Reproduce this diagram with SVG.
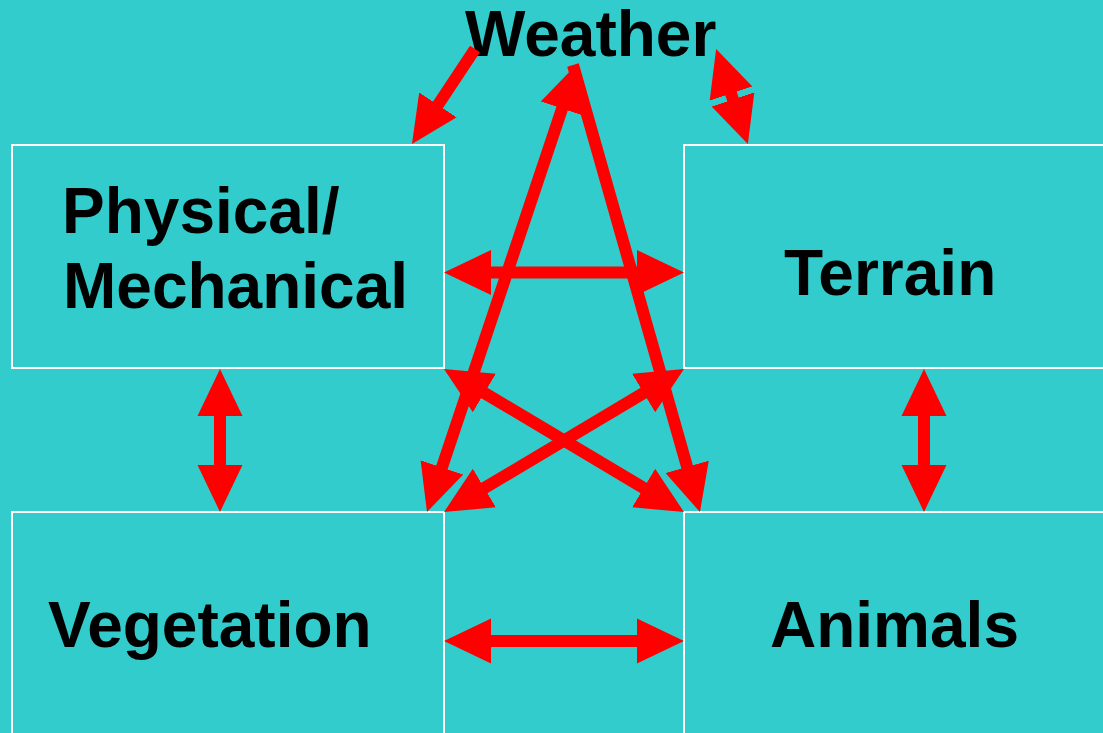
<svg xmlns="http://www.w3.org/2000/svg" width="1103" height="733" viewBox="0 0 1103 733">
<style>
.box{fill:none;stroke:#ffffff;stroke-width:2}
.lbl{font-family:"Liberation Sans",Arial,sans-serif;font-weight:bold;font-size:64px;fill:#000000}
.arr{stroke:#ff0000;stroke-width:12;fill:none}
</style>
<defs>
<marker id="h" viewBox="-1 -23 48 46" markerWidth="48" markerHeight="46" refX="0" refY="0" markerUnits="userSpaceOnUse" orient="auto-start-reverse">
<path d="M-1,-22.5 L46,0 L-1,22.5 z" fill="#ff0000"/>
</marker>
</defs>
<rect width="1103" height="733" fill="#33cccc"/>
<g id="weather">
<text class="lbl" x="465" y="56">Weather</text>
</g>
<g id="physical">
<rect class="box" x="12" y="145" width="432" height="223"/>
<text class="lbl" x="62" y="233">Physical/</text>
<text class="lbl" x="63" y="308">Mechanical</text>
</g>
<g id="terrain">
<rect class="box" x="684" y="145" width="430" height="223"/>
<text class="lbl" x="784" y="295">Terrain</text>
</g>
<g id="vegetation">
<rect class="box" x="12" y="512" width="432" height="230"/>
<text class="lbl" x="48" y="647">Vegetation</text>
</g>
<g id="animals">
<rect class="box" x="684" y="512" width="430" height="230"/>
<text class="lbl" x="770" y="647">Animals</text>
</g>
<g id="connectors">
<line class="arr" x1="490" y1="272.5" x2="638" y2="272.5" marker-start="url(#h)" marker-end="url(#h)"/>
<line class="arr" x1="490" y1="641" x2="638" y2="641" marker-start="url(#h)" marker-end="url(#h)"/>
<line class="arr" x1="220" y1="415" x2="220" y2="466" marker-start="url(#h)" marker-end="url(#h)"/>
<line class="arr" x1="924" y1="415" x2="924" y2="466" marker-start="url(#h)" marker-end="url(#h)"/>
<line class="arr" x1="483.5" y1="392.5" x2="644.5" y2="488.5" marker-start="url(#h)" marker-end="url(#h)"/>
<line class="arr" x1="644.5" y1="392.5" x2="483.5" y2="488.5" marker-start="url(#h)" marker-end="url(#h)"/>
<line class="arr" x1="562.4" y1="107.6" x2="441.6" y2="468.4" marker-start="url(#h)" marker-end="url(#h)"/>
<line class="arr" x1="573" y1="65" x2="687.4" y2="467.8" marker-end="url(#h)"/>
<line class="arr" x1="475" y1="49" x2="437.4" y2="105.7" marker-end="url(#h)"/>
<line class="arr" x1="730.7" y1="92.6" x2="733.3" y2="100.4" marker-start="url(#h)" marker-end="url(#h)"/>
</g>
</svg>
